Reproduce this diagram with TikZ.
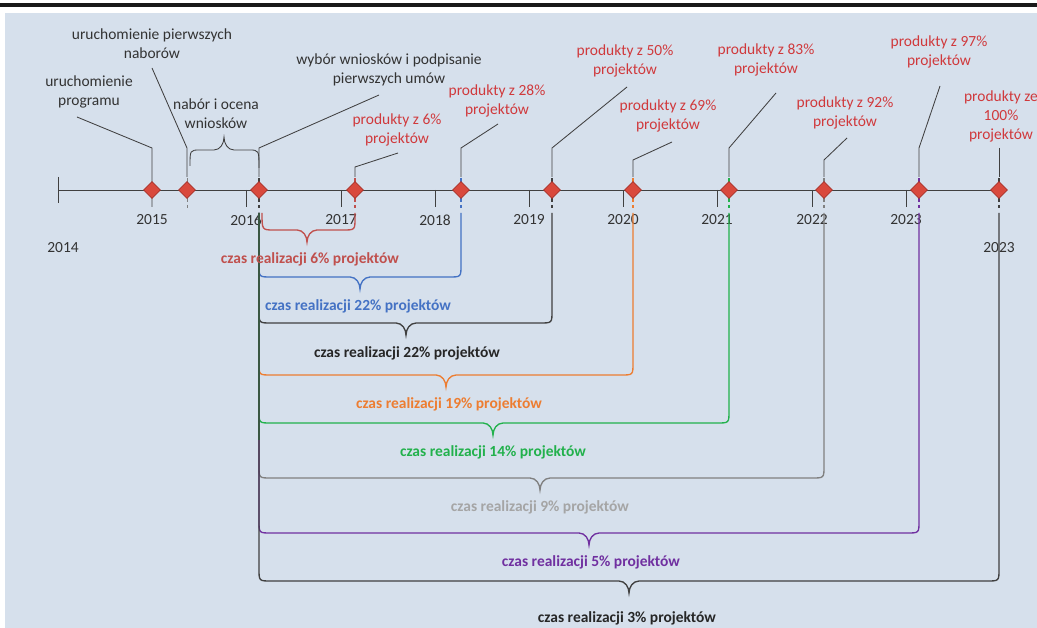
\documentclass[tikz,border=0pt]{standalone}
\usepackage{fontspec}
\setmainfont{Carlito}
\usepackage{tikz}
\usetikzlibrary{shapes.geometric}
\definecolor{tlbg}{HTML}{D6E0EC}
\definecolor{tldark}{HTML}{404040}
\definecolor{tltext}{HTML}{333333}
\definecolor{prodred}{HTML}{D0393C}
\definecolor{msfill}{HTML}{D9493D}
\definecolor{msdraw}{HTML}{A8322A}
\definecolor{cRed}{HTML}{C0504D}
\definecolor{cBlue}{HTML}{4472C4}
\definecolor{cOrange}{HTML}{ED7D31}
\definecolor{cGreen}{HTML}{22B14C}
\definecolor{cGrey}{HTML}{808080}
\definecolor{cGreyTxt}{HTML}{A5A5A5}
\definecolor{cPurple}{HTML}{7030A0}
\definecolor{cBlack}{HTML}{262626}

\begin{document}
\begin{tikzpicture}[x=0.025cm, y=-0.025cm,
    milestone/.style={diamond, draw=msdraw, fill=msfill, line width=0.5pt, minimum size=12pt, inner sep=0pt},
    callout/.style={draw=tldark, line width=0.6pt},
    stub/.style={draw=#1, line width=1pt, dash pattern=on 2.8pt off 2pt},
    brk/.style={draw=#1, line width=0.95pt},
    yearlbl/.style={text=tltext, font=\fontsize{11}{12}\selectfont, inner sep=0pt},
    note/.style={text=tltext, align=center, font=\fontsize{11}{13.5}\selectfont, inner sep=0pt},
    prodnote/.style={note, text=prodred},
    czas/.style={text=#1, font=\fontsize{11}{12}\selectfont\bfseries, inner sep=0pt}]

  % tlo i ramka
  \useasboundingbox (0,0) rectangle (1037,628);
  \fill[tlbg] (5,13) rectangle (1037,628);
  \draw[line width=2.2pt, black!90] (0,5) -- (1037,5);

  % os czasu
  \draw[tldark, line width=0.6pt] (58,190) -- (999,190);
  \draw[tldark, line width=0.6pt] (58,177) -- (58,203);
  \draw[tldark, line width=0.6pt] (246,190) -- (246,207);
  \draw[tldark, line width=0.6pt] (341,190) -- (341,207);
  \draw[tldark, line width=0.6pt] (435,190) -- (435,207);
  \draw[tldark, line width=0.6pt] (529,190) -- (529,207);
  \draw[tldark, line width=0.6pt] (623,190) -- (623,207);
  \draw[tldark, line width=0.6pt] (717,190) -- (717,207);
  \draw[tldark, line width=0.6pt] (812,190) -- (812,207);
  \draw[tldark, line width=0.6pt] (906,190) -- (906,207);

  \node[yearlbl] (y2014) at (63,248) {2014};
  \node[yearlbl] (y2015) at (152,220) {2015};
  \node[yearlbl] (y2016) at (246,220) {2016};
  \node[yearlbl] (y2017) at (341,220) {2017};
  \node[yearlbl] (y2018) at (435,220) {2018};
  \node[yearlbl] (y2019) at (529,220) {2019};
  \node[yearlbl] (y2020) at (623,220) {2020};
  \node[yearlbl] (y2021) at (717,220) {2021};
  \node[yearlbl] (y2022) at (812,220) {2022};
  \node[yearlbl] (y2023) at (906,220) {2023};
  \node[yearlbl] (y2023b) at (999,248) {2023};

  % opisy
  \node[note] (start) at (89,92) {uruchomienie\\programu};
  \node[note] (nabory) at (152,44) {uruchomienie pierwszych\\naborów};
  \node[note] (ocena) at (216,114) {nabór i ocena\\wniosków};
  \node[note] (umowy) at (389,70) {wybór wniosków i podpisanie\\pierwszych umów};
  \node[prodnote] (p6) at (397,130) {produkty z 6\%\\projektów};
  \node[prodnote] (p28) at (497,101) {produkty z 28\%\\projektów};
  \node[prodnote] (p50) at (625,61) {produkty z 50\%\\projektów};
  \node[prodnote] (p69) at (668,116) {produkty z 69\%\\projektów};
  \node[prodnote] (p83) at (766,60) {produkty z 83\%\\projektów};
  \node[prodnote] (p92) at (845,113) {produkty z 92\%\\projektów};
  \node[prodnote] (p97) at (939,52) {produkty z 97\%\\projektów};
  \node[prodnote] (p100) at (1001,116) {produkty ze\\100\%\\projektów};

  % linie odniesienia
  \draw[callout] (77,117) -- (152,148) -- (152,207);
  \draw[callout] (152,68) -- (187,148) -- (187,177);
  \draw[stub=cGrey, line width=0.6pt] (187,178) -- (187,208);
  \draw[callout] (190,166) .. controls (190,150) .. (200,150) -- (214,150)
    .. controls (220,150) and (224,144) .. (224,137)
    .. controls (224,144) and (228,150) .. (234,150) -- (249,150)
    .. controls (259,150) .. (259,168);
  \draw[callout] (379,95) -- (259,148) -- (259,177);
  \draw[callout] (398,153) -- (355,167) -- (355,177);
  \draw[callout] (498,124) -- (461,148) -- (461,177);
  \draw[callout] (627,87) -- (552,148) -- (552,177);
  \draw[callout] (672,142) -- (633,160) -- (633,177);
  \draw[callout] (776,93) -- (729,148) -- (729,177);
  \draw[callout] (847,138) -- (824,160) -- (824,177);
  \draw[callout] (940,86) -- (919,148) -- (919,177);
  \draw[callout] (999,148) -- (999,177);

  \draw[stub=tldark] (259,178) -- (259,208);
  \draw[stub=cRed] (355,178) -- (355,208);
  \draw[stub=cBlue] (461,178) -- (461,208);
  \draw[stub=tldark] (552,178) -- (552,208);
  \draw[stub=cOrange] (633,178) -- (633,208);
  \draw[stub=cGreen] (729,178) -- (729,208);
  \draw[stub=cGrey] (824,178) -- (824,208);
  \draw[stub=cPurple] (919,178) -- (919,208);
  \draw[stub=tldark] (999,178) -- (999,208);

  % kamienie milowe
  \node[milestone] (m1) at (152,190) {};
  \node[milestone] (m2) at (187,190) {};
  \node[milestone] (m3) at (259,190) {};
  \node[milestone] (m4) at (355,190) {};
  \node[milestone] (m5) at (461,190) {};
  \node[milestone] (m6) at (552,190) {};
  \node[milestone] (m7) at (633,190) {};
  \node[milestone] (m8) at (729,190) {};
  \node[milestone] (m9) at (824,190) {};
  \node[milestone] (m10) at (919,190) {};
  \node[milestone] (m11) at (999,190) {};

  % klamry czasu realizacji
  \draw[brk=cRed] (262,213) .. controls (262,230) .. (274,230) -- (297,230) .. controls (303,230) and (307,236) .. (307,242) .. controls (307,236) and (311,230) .. (317,230) -- (343,230) .. controls (355,230) .. (355,218) -- (355,213);
  \draw[brk=cBlue] (259,213) -- (259,265) .. controls (259,277) .. (271,277) -- (350,277) .. controls (356,277) and (360,283) .. (360,289) .. controls (360,283) and (364,277) .. (370,277) -- (449,277) .. controls (461,277) .. (461,265) -- (461,213);
  \draw[brk=tldark] (259,213) -- (259,311) .. controls (259,323) .. (271,323) -- (396,323) .. controls (402,323) and (406,329) .. (406,335) .. controls (406,329) and (410,323) .. (416,323) -- (540,323) .. controls (552,323) .. (552,311) -- (552,213);
  \draw[brk=cOrange] (259,213) -- (259,363) .. controls (259,375) .. (271,375) -- (436,375) .. controls (442,375) and (446,381) .. (446,387) .. controls (446,381) and (450,375) .. (456,375) -- (621,375) .. controls (633,375) .. (633,363) -- (633,213);
  \draw[brk=cGreen] (259,213) -- (259,411) .. controls (259,423) .. (271,423) -- (483,423) .. controls (489,423) and (493,429) .. (493,435) .. controls (493,429) and (497,423) .. (503,423) -- (717,423) .. controls (729,423) .. (729,411) -- (729,213);
  \draw[brk=cGrey] (259,213) -- (259,466) .. controls (259,478) .. (271,478) -- (530,478) .. controls (536,478) and (540,484) .. (540,490) .. controls (540,484) and (544,478) .. (550,478) -- (812,478) .. controls (824,478) .. (824,466) -- (824,213);
  \draw[brk=cPurple] (259,213) -- (259,521) .. controls (259,533) .. (271,533) -- (579,533) .. controls (585,533) and (589,539) .. (589,545) .. controls (589,539) and (593,533) .. (599,533) -- (907,533) .. controls (919,533) .. (919,521) -- (919,213);
  \draw[brk=tldark] (259,213) -- (259,569) .. controls (259,581) .. (271,581) -- (619,581) .. controls (625,581) and (629,587) .. (629,593) .. controls (629,587) and (633,581) .. (639,581) -- (987,581) .. controls (999,581) .. (999,569) -- (999,213);
  \draw[brk=tldark!80!cGreen] (259,213) -- (259,440);

  \node[czas=cRed] (c6) at (310,259) {czas realizacji 6\% projektów};
  \node[czas=cBlue] (c22a) at (358,306) {czas realizacji 22\% projektów};
  \node[czas=cBlack] (c22b) at (407,353) {czas realizacji 22\% projektów};
  \node[czas=cOrange] (c19) at (449,404) {czas realizacji 19\% projektów};
  \node[czas=cGreen] (c14) at (493,452) {czas realizacji 14\% projektów};
  \node[czas=cGreyTxt] (c9) at (540,507) {czas realizacji 9\% projektów};
  \node[czas=cPurple] (c5) at (591,562) {czas realizacji 5\% projektów};
  \node[czas=cBlack] (c3) at (627,618) {czas realizacji 3\% projektów};
\end{tikzpicture}
\end{document}
